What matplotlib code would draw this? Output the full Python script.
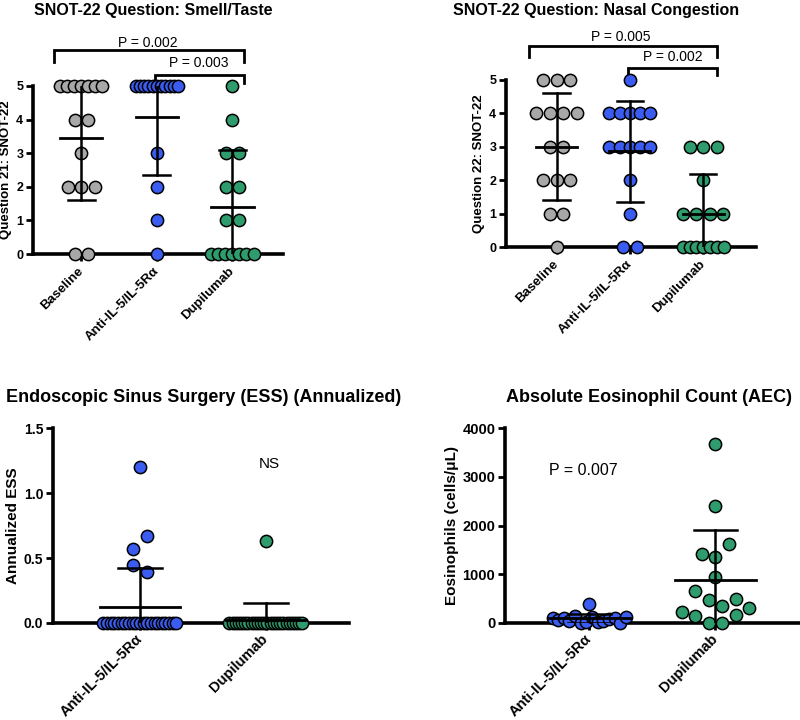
import numpy as np
import matplotlib
matplotlib.use('Agg')
import matplotlib.pyplot as plt

plt.rcParams['font.family'] = ['Liberation Sans', 'DejaVu Sans']

# ---- data ----
snot_groups = ['Baseline', 'Anti-IL-5/IL-5Rα', 'Dupilumab']
two_groups = ['Anti-IL-5/IL-5Rα', 'Dupilumab']

smell_baseline = [5, 5, 5, 5, 5, 5, 5, 4, 4, 3, 2, 2, 2, 0, 0]
smell_anti = [5, 5, 5, 5, 5, 5, 5, 5, 5, 5, 5, 3, 2, 1, 0]
smell_dupi = [5, 4, 3, 3, 2, 2, 1, 1, 0, 0, 0, 0, 0, 0, 0]

nasal_baseline = [5, 5, 5, 4, 4, 4, 4, 3, 3, 2, 2, 2, 1, 1, 0]
nasal_anti = [5, 4, 4, 4, 4, 4, 3, 3, 3, 3, 3, 2, 1, 0, 0]
nasal_dupi = [3, 3, 3, 2, 1, 1, 1, 1, 0, 0, 0, 0, 0, 0, 0]

ess_anti = [1.2, 0.57, 0.67, 0.45, 0.39] + [0.0] * 21
ess_dupi = [0.63] + [0.0] * 24

aec_anti = [400, 100, 60, 110, 40, 140, 0, 20, 130, 30, 50, 90, 100, 10, 120]
aec_dupi = [3680, 2400, 1420, 1350, 1630, 950, 650, 480, 350, 490,
            220, 150, 10, 10, 160, 300]

snot_ticks = [0, 1, 2, 3, 4, 5]
ess_ticks = [0.0, 0.5, 1.0, 1.5]
ess_ticklabels = ['0.0', '0.5', '1.0', '1.5']
aec_ticks = [0, 1000, 2000, 3000, 4000]

gray, blue, green = '#A8A8A8', '#3A5CF0', '#2E9C6C'

W, H = 800, 720
fig = plt.figure(figsize=(8, 7.2), dpi=100)


def px_axes(left, top, right, bottom):
    return fig.add_axes([left / W, 1 - bottom / H, (right - left) / W, (bottom - top) / H])


def swarm_offsets(ax, vals, gap=13.5, half=0.28, bin_px=15):
    # GraphPad-like scatter: bin by height, spread each bin centred
    pos = ax.get_position()
    x0, x1 = ax.get_xlim()
    y0, y1 = ax.get_ylim()
    xpx = pos.width * W / (x1 - x0)
    ypx = pos.height * H / (y1 - y0)
    vals = np.asarray(vals, float)
    order = np.argsort(vals, kind='stable')
    offs = np.zeros(len(vals))
    i = 0
    while i < len(order):
        start = vals[order[i]]
        j = i
        while j < len(order) and (vals[order[j]] - start) * ypx <= bin_px:
            j += 1
        members = np.sort(order[i:j])
        n = len(members)
        if n > 1:
            step = min(gap, 2 * half * xpx / (n - 1))
            offs[members] = (np.arange(n) - (n - 1) / 2) * step / xpx
        i = j
    return offs


def draw_group(ax, x, vals, color, mw, cw, half):
    vals = np.asarray(vals, float)
    offs = swarm_offsets(ax, vals, half=half)
    ax.scatter(x + offs, vals, s=78, c=color, edgecolors='black',
               linewidths=1.1, zorder=3, clip_on=False)
    m = vals.mean()
    sd = vals.std(ddof=1)
    ax.plot([x - mw, x + mw], [m, m], color='black', lw=2, zorder=4)
    ax.plot([x, x], [m - sd, m + sd], color='black', lw=1.8, zorder=4)
    for yy in (m - sd, m + sd):
        ax.plot([x - cw, x + cw], [yy, yy], color='black', lw=1.8, zorder=4)


def style(ax, ticks, ticklabels, cats, tsize, xsize, xpad):
    for s in ('top', 'right'):
        ax.spines[s].set_visible(False)
    for s in ('left', 'bottom'):
        ax.spines[s].set_linewidth(2.6)
    ax.set_yticks(ticks)
    ax.set_yticklabels(ticklabels, fontweight='bold', fontsize=tsize)
    ax.set_xticks(np.arange(1, len(cats) + 1))
    ax.set_xticklabels(cats, fontweight='bold', fontsize=xsize, rotation=45,
                       ha='right', va='center', rotation_mode='anchor')
    ax.tick_params(axis='both', width=2, length=5, pad=2)
    ax.tick_params(axis='x', pad=xpad)


def bracket(ax, x0, x1, y, y0tip, y1tip, label, tx, ty):
    ax.plot([x0, x0, x1, x1], [y0tip, y, y, y1tip], color='black', lw=2,
            clip_on=False, solid_joinstyle='miter')
    ax.text(tx, ty, label, ha='center', va='center', fontsize=10)


# ---- Smell / taste ----
ax1 = px_axes(33, 86, 283, 254)
ax1.set_xlim(0.36, 3.67)
ax1.set_ylim(0, 5)
for x, vals, c in zip([1, 2, 3], [smell_baseline, smell_anti, smell_dupi], [gray, blue, green]):
    draw_group(ax1, x, vals, c, 0.28, 0.18, 0.28)
style(ax1, snot_ticks, [str(t) for t in snot_ticks], snot_groups, 9, 9.5, 6)
ax1.set_ylabel('Question 21: SNOT-22', fontweight='bold', fontsize=9.5)
ax1.yaxis.set_label_coords(-0.085, 0.5)
bracket(ax1, 0.64, 3.15, 6.07, 5.71, 5.71, 'P = 0.002', 1.88, 6.28)
bracket(ax1, 1.98, 3.15, 5.33, 5.1, 5.09, 'P = 0.003', 2.56, 5.68)
fig.text(153 / W, 1 - 10 / H, 'SNOT-22 Question: Smell/Taste', ha='center',
         va='center', fontweight='bold', fontsize=11.5)

# ---- Nasal congestion ----
ax2 = px_axes(506, 80, 756, 247)
ax2.set_xlim(0.31, 3.72)
ax2.set_ylim(0, 5)
for x, vals, c in zip([1, 2, 3], [nasal_baseline, nasal_anti, nasal_dupi], [gray, blue, green]):
    draw_group(ax2, x, vals, c, 0.28, 0.18, 0.28)
style(ax2, snot_ticks, [str(t) for t in snot_ticks], snot_groups, 9, 9.5, 6)
ax2.set_ylabel('Question 22: SNOT-22', fontweight='bold', fontsize=9.5)
ax2.yaxis.set_label_coords(-0.085, 0.5)
bracket(ax2, 0.62, 3.19, 6.02, 5.69, 5.69, 'P = 0.005', 1.88, 6.29)
bracket(ax2, 1.98, 3.19, 5.36, 5.15, 5.15, 'P = 0.002', 2.58, 5.69)
fig.text(596 / W, 1 - 10 / H, 'SNOT-22 Question: Nasal Congestion', ha='center',
         va='center', fontweight='bold', fontsize=11.5)

# ---- ESS ----
ax3 = px_axes(53, 428, 349, 623)
ax3.set_xlim(0.31, 2.66)
ax3.set_ylim(0, 1.5)
for x, vals, c in zip([1, 2], [ess_anti, ess_dupi], [blue, green]):
    draw_group(ax3, x, vals, c, 0.32, 0.175, 0.29)
style(ax3, ess_ticks, ess_ticklabels, two_groups, 10, 10.5, 5)
ax3.set_ylabel('Annualized ESS', fontweight='bold', fontsize=11)
ax3.yaxis.set_label_coords(-0.113, 0.5)
ax3.text(2.03, 1.22, 'NS', ha='center', va='center', fontsize=11)
fig.text(204 / W, 1 - 397 / H, 'Endoscopic Sinus Surgery (ESS) (Annualized)',
         ha='center', va='center', fontweight='bold', fontsize=13)

# ---- AEC ----
ax4 = px_axes(505, 428, 800, 623)
ax4.set_xlim(0.333, 2.67)
ax4.set_ylim(0, 4000)
for x, vals, c in zip([1, 2], [aec_anti, aec_dupi], [blue, green]):
    draw_group(ax4, x, vals, c, 0.32, 0.17, 0.29)
style(ax4, aec_ticks, [str(t) for t in aec_ticks], two_groups, 10.5, 10.5, 5)
ax4.set_ylabel('Eosinophils (cells/μL)', fontweight='bold', fontsize=11)
ax4.yaxis.set_label_coords(-0.155, 0.5)
ax4.text(0.95, 3138, 'P = 0.007', ha='center', va='center', fontsize=11.5)
fig.text(649 / W, 1 - 397 / H, 'Absolute Eosinophil Count (AEC)',
         ha='center', va='center', fontweight='bold', fontsize=13)

fig.savefig('out.png', dpi=100)
